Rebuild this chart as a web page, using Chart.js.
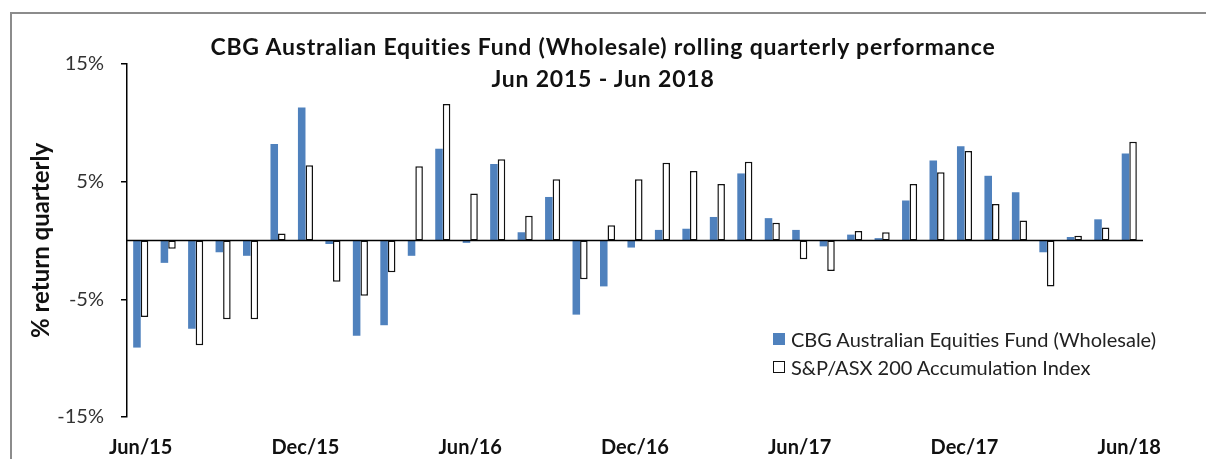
<!DOCTYPE html>
<html>
<head>
<meta charset="utf-8">
<script src="https://cdn.jsdelivr.net/npm/chart.js@4.4.1/dist/chart.umd.min.js"></script>
<style>
  body { margin: 0; background: #fff; }
  #wrap { position: relative; width: 1206px; height: 459px; overflow: hidden; }
  #frame { position: absolute; left: 10px; top: 12px; width: 1400px; height: 600px; border: 2px solid #8c8c8c; box-sizing: border-box; }
  #title { position: absolute; left: 0; width: 1206px; top: 30px; text-align: center; font: bold 23px Lato, sans-serif; letter-spacing: 0.8px; line-height: 32px; color: #111; }
  #legend { position: absolute; left: 773px; top: 325px; font: 20px Lato, sans-serif; color: #222; }
  #legend div { height: 28px; display: flex; align-items: center; }
  #legend span.box { width: 12px; height: 12px; margin-right: 6px; box-sizing: border-box; }
  canvas { position: absolute; left: 0; top: 0; }
</style>
</head>
<body>
<div id="wrap">
  <div id="frame"></div>
  <canvas id="chart" width="1206" height="459"></canvas>
  <div id="title">CBG Australian Equities Fund (Wholesale) rolling quarterly performance<br>Jun 2015 - Jun 2018</div>
  <div id="legend"></div>
</div>
<script>
// monthly categories, Jun 2015 - Jun 2018
const months = [
  'Jun/15', 'Jul/15', 'Aug/15', 'Sep/15', 'Oct/15', 'Nov/15', 'Dec/15',
  'Jan/16', 'Feb/16', 'Mar/16', 'Apr/16', 'May/16', 'Jun/16',
  'Jul/16', 'Aug/16', 'Sep/16', 'Oct/16', 'Nov/16', 'Dec/16',
  'Jan/17', 'Feb/17', 'Mar/17', 'Apr/17', 'May/17', 'Jun/17',
  'Jul/17', 'Aug/17', 'Sep/17', 'Oct/17', 'Nov/17', 'Dec/17',
  'Jan/18', 'Feb/18', 'Mar/18', 'Apr/18', 'May/18', 'Jun/18'
];
const shownLabels = ['Jun/15', 'Dec/15', 'Jun/16', 'Dec/16', 'Jun/17', 'Dec/17', 'Jun/18'];

const fundName = 'CBG Australian Equities Fund (Wholesale)';
const fundReturns = [
  -9.1, -1.9, -7.5, -1.0, -1.3, 8.2, 11.3,
  -0.3, -8.1, -7.2, -1.3, 7.8, -0.2,
  6.5, 0.7, 3.7, -6.3, -3.9, -0.6,
  0.9, 1.0, 2.0, 5.7, 1.9, 0.9,
  -0.5, 0.5, 0.2, 3.4, 6.8, 8.0,
  5.5, 4.1, -1.0, 0.3, 1.8, 7.4
];

const indexName = 'S&P/ASX 200 Accumulation Index';
const indexReturns = [
  -6.5, -0.7, -8.9, -6.7, -6.7, 0.6, 6.4,
  -3.5, -4.7, -2.7, 6.3, 11.6, 4.0,
  6.9, 2.1, 5.2, -3.3, 1.3, 5.2,
  6.6, 5.9, 4.8, 6.7, 1.5, -1.6,
  -2.6, 0.8, 0.7, 4.8, 5.8, 7.6,
  3.1, 1.7, -3.9, 0.4, 1.1, 8.4
];

const yTicks = [-15, -5, 5, 15];

const fundColor = '#4f81bd';

// zero line across the plot, drawn over the bars
const zeroLine = {
  id: 'zeroLine',
  afterDatasetsDraw(chart) {
    const { ctx, chartArea, scales } = chart;
    const y = scales.y.getPixelForValue(0);
    ctx.save();
    ctx.strokeStyle = '#000';
    ctx.lineWidth = 1.5;
    ctx.beginPath();
    ctx.moveTo(chartArea.left, y);
    ctx.lineTo(chartArea.right, y);
    ctx.stroke();
    ctx.restore();
  }
};

const chart = new Chart(document.getElementById('chart'), {
  type: 'bar',
  data: {
    labels: months,
    datasets: [
      {
        label: fundName,
        data: fundReturns,
        backgroundColor: fundColor,
        borderWidth: 0
      },
      {
        label: indexName,
        data: indexReturns,
        backgroundColor: '#fff',
        borderColor: '#111',
        borderWidth: 1.5,
        borderSkipped: false
      }
    ]
  },
  options: {
    responsive: false,
    animation: false,
    datasets: {
      bar: { categoryPercentage: 0.55, barPercentage: 1.0 }
    },
    layout: { padding: { left: 0, right: 63, top: 64, bottom: 0 } },
    plugins: {
      legend: { display: false },
      tooltip: { enabled: false }
    },
    scales: {
      x: {
        grid: { display: false, drawTicks: false },
        border: { display: false },
        ticks: {
          autoSkip: false,
          maxRotation: 0,
          padding: 19,
          color: '#111',
          font: { family: 'Lato', size: 20, weight: 'bold' },
          callback: function (value) {
            const label = this.getLabelForValue(value);
            return shownLabels.includes(label) ? label : '';
          }
        },
        afterFit: (scale) => { scale.height = 42; }
      },
      y: {
        min: -15,
        max: 15,
        afterBuildTicks: (scale) => { scale.ticks = yTicks.map(v => ({ value: v })); },
        grid: { display: true, drawOnChartArea: false, drawTicks: true, tickLength: 6, color: '#000', lineWidth: 1.5 },
        border: { display: true, color: '#000', width: 1.5 },
        ticks: {
          padding: 17,
          color: '#333',
          font: { family: 'Lato', size: 20 },
          callback: (v) => v + '%'
        },
        title: {
          display: true,
          text: '% return quarterly',
          color: '#111',
          font: { family: 'Lato', size: 24, weight: 'bold' },
          padding: { top: 27, bottom: 0 }
        },
        afterFit: (scale) => { scale.width = 127; }
      }
    }
  },
  plugins: [zeroLine]
});

// legend in the lower right of the plot
const legendEl = document.getElementById('legend');
chart.data.datasets.forEach(ds => {
  const row = document.createElement('div');
  const box = document.createElement('span');
  box.className = 'box';
  box.style.background = ds.backgroundColor;
  if (ds.borderWidth) box.style.border = '1.5px solid ' + ds.borderColor;
  const txt = document.createElement('span');
  txt.textContent = ds.label;
  row.appendChild(box);
  row.appendChild(txt);
  legendEl.appendChild(row);
});
</script>
</body>
</html>
